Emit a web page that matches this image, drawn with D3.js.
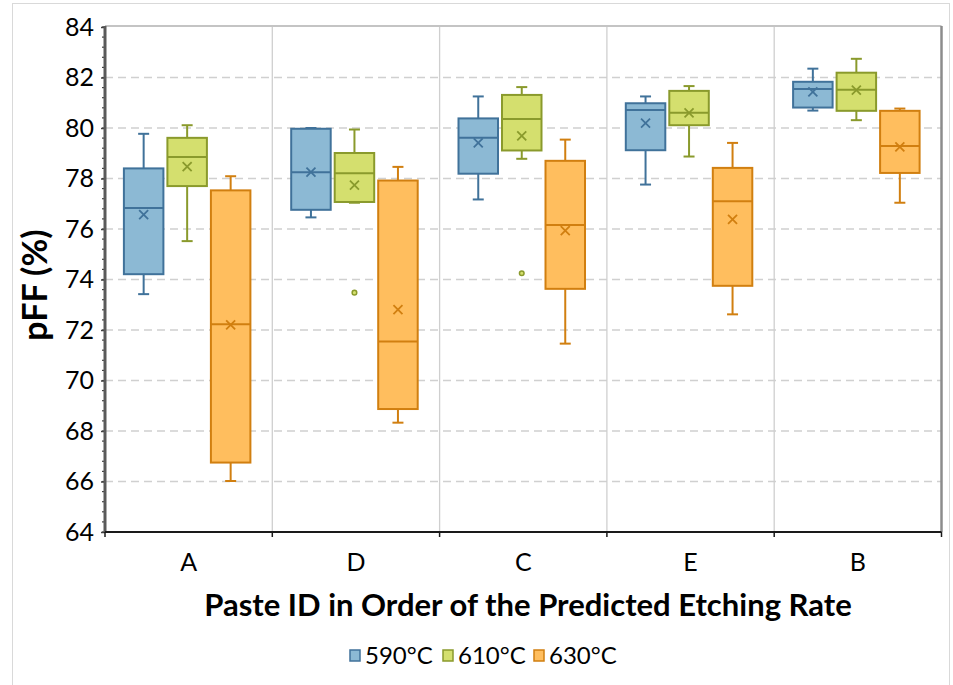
<!DOCTYPE html>
<html>
<head>
<meta charset="utf-8">
<script src="https://cdnjs.cloudflare.com/ajax/libs/d3/7.8.5/d3.min.js"></script>
<style>
  body { margin: 0; background: #fff; }
  text { font-family: Lato, "Open Sans", sans-serif; fill: #000; }
</style>
</head>
<body>
<div id="chart"></div>
<script>
// categories in order of predicted etching rate
var pastes = ["A", "D", "C", "E", "B"];
var temps = ["590°C", "610°C", "630°C"];
var yTicks = [64, 66, 68, 70, 72, 74, 76, 78, 80, 82, 84];

// box stats per paste: [min, q1, median, q3, max, mean]
var stats590 = [
  [73.42, 74.21, 76.83, 78.40, 79.77, 76.57],
  [76.46, 76.76, 78.25, 79.97, 80.00, 78.25],
  [77.17, 78.19, 79.61, 80.38, 81.25, 79.41],
  [77.76, 79.12, 80.71, 80.98, 81.25, 80.19],
  [80.69, 80.81, 81.54, 81.83, 82.35, 81.43]
];
var stats610 = [
  [75.52, 77.70, 78.85, 79.61, 80.11, 78.47],
  [77.04, 77.07, 78.21, 79.01, 79.94, 77.74],
  [78.78, 79.11, 80.36, 81.31, 81.62, 79.69],
  [78.87, 80.11, 80.60, 81.47, 81.66, 80.60],
  [80.31, 80.68, 81.51, 82.19, 82.74, 81.50]
];
var stats630 = [
  [66.02, 66.75, 72.23, 77.53, 78.09, 72.20],
  [68.33, 68.87, 71.54, 77.92, 78.46, 72.81],
  [71.46, 73.63, 76.16, 78.70, 79.54, 75.94],
  [72.62, 73.75, 77.10, 78.42, 79.41, 76.38],
  [77.04, 78.22, 79.29, 80.68, 80.77, 79.25]
];
// outliers: [paste, temperature, value]
var outliers = [
  ["D", "610°C", 73.48],
  ["C", "610°C", 74.25]
];

var fills = ["#8cb9d4", "#d4df6e", "#ffbe5e"];
var strokes = ["#40729a", "#8a9a2c", "#d17f10"];

var width = 953, height = 685;
var plotLeft = 105, plotRight = 941.5, plotTop = 27, plotBottom = 532;

var svg = d3.select("#chart").append("svg")
  .attr("width", width)
  .attr("height", height);

// outer chart border
svg.append("rect")
  .attr("x", 12.5).attr("y", 3.5)
  .attr("width", 937).attr("height", 700)
  .attr("fill", "none")
  .attr("stroke", "#d9d9d9");

var x = d3.scaleBand().domain(pastes).range([plotLeft, plotRight]).padding(0);
var y = d3.scaleLinear().domain([64, 84]).range([plotBottom, plotTop]);

// horizontal dashed grid
svg.append("g").selectAll("line")
  .data(yTicks.slice(1, -1))
  .enter().append("line")
  .attr("x1", plotLeft).attr("x2", plotRight)
  .attr("y1", function(d) { return y(d); })
  .attr("y2", function(d) { return y(d); })
  .attr("stroke", "#d0d0d0")
  .attr("stroke-width", 1.3)
  .attr("stroke-dasharray", "8,5");

// vertical category separators
svg.append("g").selectAll("line")
  .data(pastes.slice(1))
  .enter().append("line")
  .attr("x1", function(d) { return x(d); })
  .attr("x2", function(d) { return x(d); })
  .attr("y1", plotTop).attr("y2", plotBottom)
  .attr("stroke", "#cfcfcf")
  .attr("stroke-width", 1.3);

// plot area top and right edge
svg.append("line")
  .attr("x1", plotLeft).attr("x2", plotRight)
  .attr("y1", plotTop - 1).attr("y2", plotTop - 1)
  .attr("stroke", "#b0b0b0").attr("stroke-width", 1.5);
svg.append("line")
  .attr("x1", plotRight).attr("x2", plotRight)
  .attr("y1", plotTop - 1).attr("y2", plotBottom)
  .attr("stroke", "#8c8c8c").attr("stroke-width", 2.5);

// y axis with minor ticks
var yAxis = d3.axisLeft(y)
  .tickValues(yTicks)
  .tickSize(4)
  .tickPadding(7);
var yg = svg.append("g")
  .attr("transform", "translate(" + plotLeft + ",0)")
  .call(yAxis);
yg.select(".domain").remove();
yg.selectAll(".tick line").attr("stroke", "#404040").attr("stroke-width", 1.5);
yg.selectAll(".tick text")
  .style("font-size", "25px")
  .style("font-family", "Lato, sans-serif")
  .attr("fill", "#000");

var minor = d3.range(64, 84.01, 0.4);
svg.append("g").selectAll("line")
  .data(minor)
  .enter().append("line")
  .attr("x1", plotLeft - 3).attr("x2", plotLeft)
  .attr("y1", function(d) { return y(d); })
  .attr("y2", function(d) { return y(d); })
  .attr("stroke", "#404040")
  .attr("stroke-width", 1.2);

svg.append("line")
  .attr("x1", plotLeft).attr("x2", plotLeft)
  .attr("y1", plotTop - 1).attr("y2", plotBottom)
  .attr("stroke", "#5a5a5a").attr("stroke-width", 3);

// x axis
var xg = svg.append("g");
xg.append("line")
  .attr("x1", plotLeft).attr("x2", plotRight)
  .attr("y1", plotBottom).attr("y2", plotBottom)
  .attr("stroke", "#1a1a1a").attr("stroke-width", 2.2);
xg.selectAll(".xtick")
  .data(pastes.concat(["end"]))
  .enter().append("line")
  .attr("class", "xtick")
  .attr("x1", function(d, i) { return plotLeft + i * x.bandwidth(); })
  .attr("x2", function(d, i) { return plotLeft + i * x.bandwidth(); })
  .attr("y1", plotBottom).attr("y2", plotBottom + 5)
  .attr("stroke", "#1a1a1a").attr("stroke-width", 1.5);
xg.selectAll(".xlabel")
  .data(pastes)
  .enter().append("text")
  .attr("class", "xlabel")
  .attr("x", function(d) { return x(d) + x.bandwidth() / 2; })
  .attr("y", 571)
  .attr("text-anchor", "middle")
  .style("font-size", "25px")
  .text(function(d) { return d; });

// axis titles
svg.append("text")
  .attr("transform", "translate(47,285) rotate(-90)")
  .attr("text-anchor", "middle")
  .style("font-size", "34px")
  .style("font-weight", "bold")
  .text("pFF (%)");
svg.append("text")
  .attr("x", 528).attr("y", 616)
  .attr("text-anchor", "middle")
  .style("font-size", "31px")
  .style("font-weight", "bold")
  .text("Paste ID in Order of the Predicted Etching Rate");

// boxes
var boxWidth = 39.5, slot = 43.5, capWidth = 11;
var allStats = [stats590, stats610, stats630];

allStats.forEach(function(series, si) {
  var g = svg.append("g").attr("class", "series-" + si);
  var offset = (si - 1) * slot - 1.5;
  var boxes = g.selectAll(".box")
    .data(series)
    .enter().append("g")
    .attr("class", "box")
    .attr("transform", function(d, i) {
      var cx = x(pastes[i]) + x.bandwidth() / 2 + offset;
      return "translate(" + cx + ",0)";
    });

  // whiskers
  boxes.append("line")
    .attr("x1", 0).attr("x2", 0)
    .attr("y1", function(d) { return y(d[4]); })
    .attr("y2", function(d) { return y(d[3]); })
    .attr("stroke", strokes[si]).attr("stroke-width", 2);
  boxes.append("line")
    .attr("x1", 0).attr("x2", 0)
    .attr("y1", function(d) { return y(d[1]); })
    .attr("y2", function(d) { return y(d[0]); })
    .attr("stroke", strokes[si]).attr("stroke-width", 2);
  boxes.selectAll(".cap")
    .data(function(d) { return [d[0], d[4]]; })
    .enter().append("line")
    .attr("class", "cap")
    .attr("x1", -capWidth / 2).attr("x2", capWidth / 2)
    .attr("y1", function(v) { return y(v); })
    .attr("y2", function(v) { return y(v); })
    .attr("stroke", strokes[si]).attr("stroke-width", 2);

  boxes.append("rect")
    .attr("x", -boxWidth / 2)
    .attr("y", function(d) { return y(d[3]); })
    .attr("width", boxWidth)
    .attr("height", function(d) { return y(d[1]) - y(d[3]); })
    .attr("fill", fills[si])
    .attr("stroke", strokes[si])
    .attr("stroke-width", 2);

  // median
  boxes.append("line")
    .attr("x1", -boxWidth / 2).attr("x2", boxWidth / 2)
    .attr("y1", function(d) { return y(d[2]); })
    .attr("y2", function(d) { return y(d[2]); })
    .attr("stroke", strokes[si]).attr("stroke-width", 2);

  // mean marker
  boxes.append("path")
    .attr("d", function(d) {
      var m = y(d[5]), s = 4.5;
      return "M" + (-s) + "," + (m - s) + "L" + s + "," + (m + s) +
        "M" + s + "," + (m - s) + "L" + (-s) + "," + (m + s);
    })
    .attr("stroke", strokes[si])
    .attr("stroke-width", 1.8)
    .attr("fill", "none");
});

// outlier points
svg.append("g").selectAll("circle")
  .data(outliers)
  .enter().append("circle")
  .attr("cx", function(d) {
    var si = temps.indexOf(d[1]);
    return x(d[0]) + x.bandwidth() / 2 + (si - 1) * slot - 1.5;
  })
  .attr("cy", function(d) { return y(d[2]); })
  .attr("r", 2.3)
  .attr("fill", function(d) { return fills[temps.indexOf(d[1])]; })
  .attr("stroke", function(d) { return strokes[temps.indexOf(d[1])]; })
  .attr("stroke-width", 1.5);

// legend
var legendX = [350, 443, 534];
var legend = svg.append("g").selectAll(".legend")
  .data(temps)
  .enter().append("g")
  .attr("class", "legend")
  .attr("transform", function(d, i) { return "translate(" + legendX[i] + ",650)"; });
legend.append("rect")
  .attr("width", 10).attr("height", 11)
  .attr("fill", function(d, i) { return fills[i]; })
  .attr("stroke", function(d, i) { return strokes[i]; })
  .attr("stroke-width", 1.5);
legend.append("text")
  .attr("x", 15).attr("y", 14)
  .style("font-size", "24px")
  .text(function(d) { return d; });
</script>
</body>
</html>
